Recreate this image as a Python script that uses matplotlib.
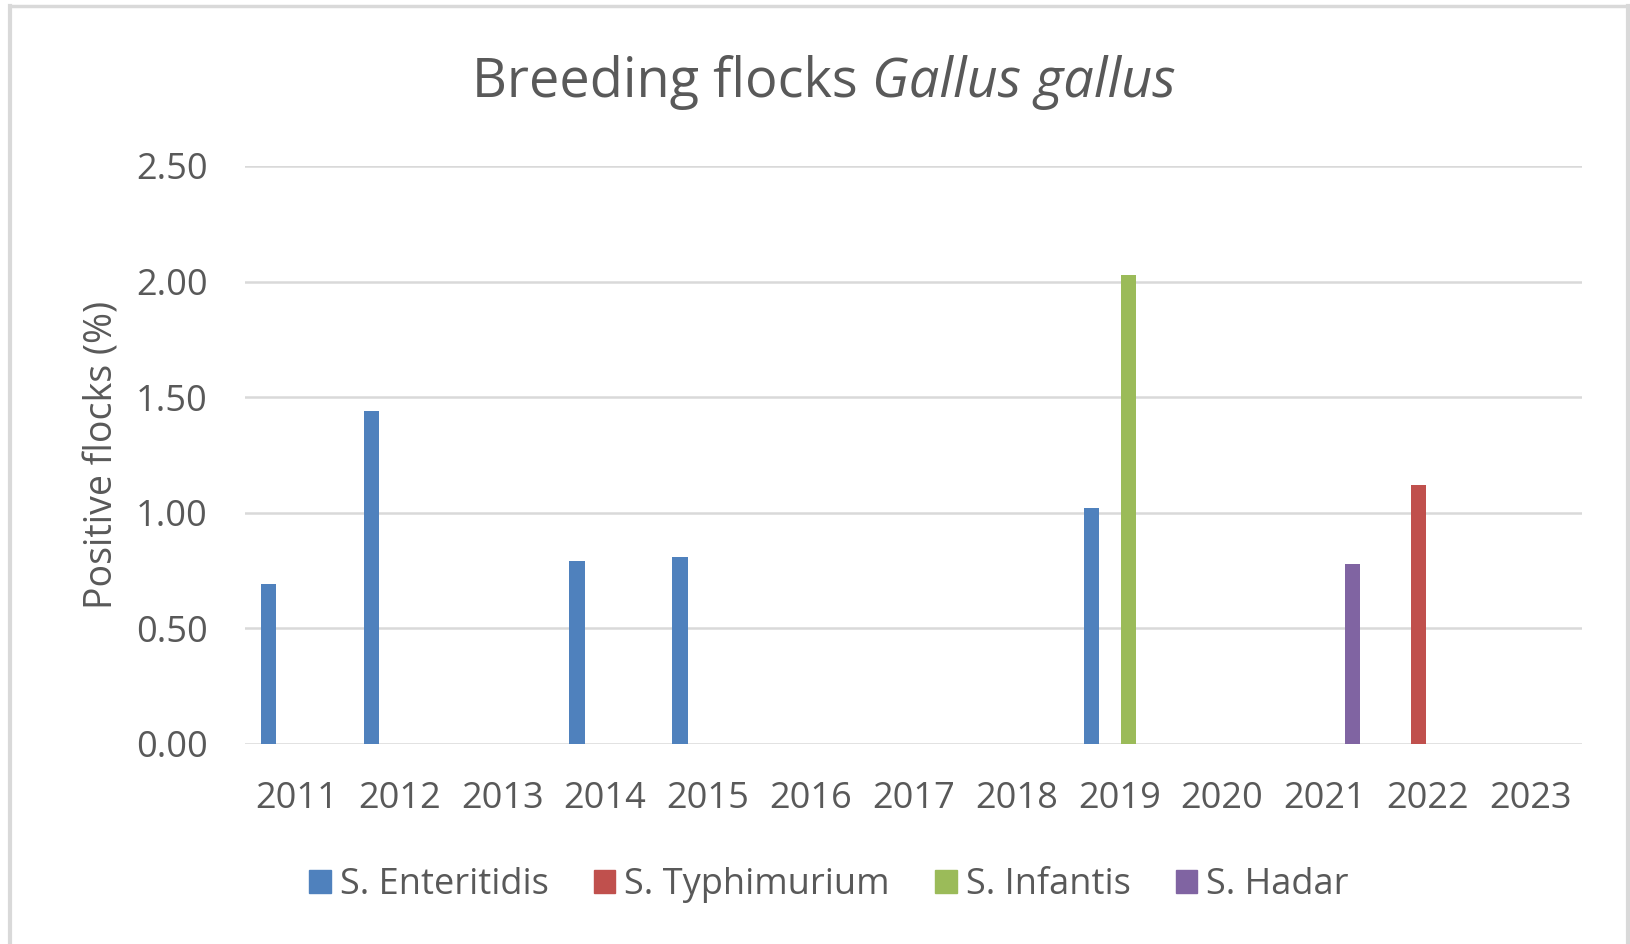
import numpy as np
import matplotlib.pyplot as plt
from matplotlib.lines import Line2D
from matplotlib.patches import Patch

plt.rcParams['font.family'] = ['Open Sans', 'DejaVu Sans']

years = ['2011', '2012', '2013', '2014', '2015', '2016', '2017',
         '2018', '2019', '2020', '2021', '2022', '2023']
series_names = ['S. Enteritidis', 'S. Typhimurium', 'S. Infantis', 'S. Hadar']
enteritidis = [0.69, 1.44, 0, 0.79, 0.81, 0, 0, 0, 1.02, 0, 0, 0, 0]
typhimurium = [0, 0, 0, 0, 0, 0, 0, 0, 0, 0, 0, 1.12, 0]
infantis = [0, 0, 0, 0, 0, 0, 0, 0, 2.03, 0, 0, 0, 0]
hadar = [0, 0, 0, 0, 0, 0, 0, 0, 0, 0, 0.78, 0, 0]
colors = ['#4f81bd', '#c0504d', '#9bbb59', '#8064a2']

txt = '#595959'
grid = '#d9d9d9'

fig = plt.figure(figsize=(16.3, 9.44), dpi=100)
ax = fig.add_axes([0.1503, 0.2119, 0.8203, 0.6123])

x = np.arange(len(years))
slot = 0.18
width = 0.15
for i, (vals, c) in enumerate(zip([enteritidis, typhimurium, infantis, hadar], colors)):
    ax.bar(x + (i - 1.5) * slot, vals, width, color=c, zorder=3)

ax.set_xlim(-0.5, len(years) - 0.5)
ax.set_ylim(0, 2.5)
ax.set_yticks(np.arange(0, 2.51, 0.5))
ax.set_yticklabels(['%.2f' % v for v in np.arange(0, 2.51, 0.5)])
ax.set_xticks(x)
ax.set_xticklabels(years)
ax.tick_params(length=0, labelsize=26, colors=txt)
ax.tick_params(axis='y', pad=27)
ax.tick_params(axis='x', pad=27)
ax.yaxis.grid(True, color=grid, lw=1.8, zorder=0)
for s in ax.spines.values():
    s.set_visible(False)
ax.set_ylabel('Positive flocks (%)', fontsize=27, color=txt, labelpad=10)

# title: normal + italic parts, centred together
t1 = fig.text(0, 0.913, 'Breeding flocks ', fontsize=39, color=txt, ha='left', va='center')
t2 = fig.text(0, 0.913, 'Gallus gallus', fontsize=39, color=txt, ha='left', va='center',
              style='italic')
r = fig.canvas.get_renderer()
w1 = t1.get_window_extent(r).width / fig.bbox.width
w2 = t2.get_window_extent(r).width / fig.bbox.width
x0 = 0.5055 - (w1 + w2) / 2
t1.set_x(x0)
t2.set_x(x0 + w1)

handles = [Patch(color=c) for c in colors]
fig.legend(handles, series_names, loc='center', bbox_to_anchor=(0.5085, 0.062), ncol=4,
           frameon=False, fontsize=26, labelcolor=txt, handlelength=0.6, handleheight=0.6,
           handletextpad=0.25, columnspacing=1.25)

# chart border
fig.add_artist(Line2D([10 / 1630, 10 / 1630], [0, 1 - 6 / 944], color=grid, lw=3))
fig.add_artist(Line2D([10 / 1630, 1628 / 1630], [1 - 6 / 944, 1 - 6 / 944], color=grid, lw=2.5))
fig.add_artist(Line2D([1628 / 1630, 1628 / 1630], [0, 1 - 6 / 944], color=grid, lw=3))

fig.savefig('out.png', dpi=100)
